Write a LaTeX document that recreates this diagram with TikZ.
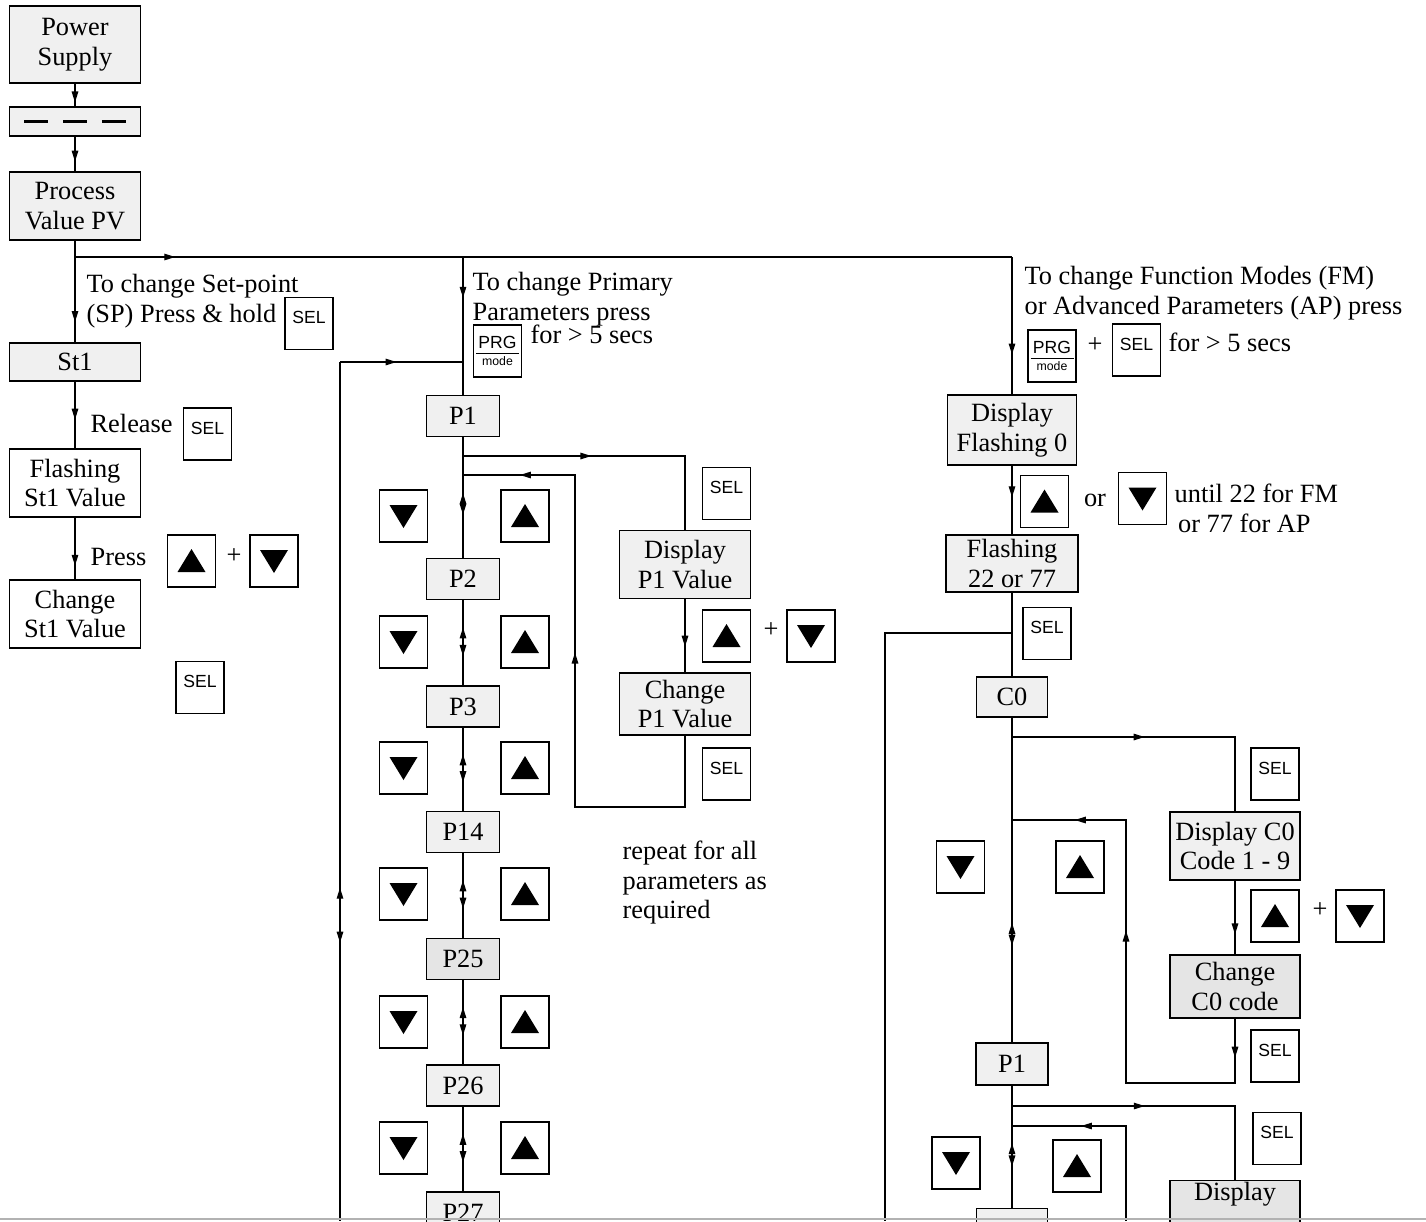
\documentclass[tikz,border=0pt]{standalone}
\usepackage{fontspec}
\setmainfont{Liberation Serif}
\newfontfamily\keyfam{Liberation Sans}
\usetikzlibrary{arrows.meta,decorations.markings}
\newcommand{\boxfont}{\fontsize{15}{17}\selectfont}
\newcommand{\keyfont}{\keyfam\fontsize{10}{11}\selectfont}
\newcommand{\prglabel}{PRG\\[-8pt]\rule{0.86cm}{0.6pt}\\[-4pt]{\fontsize{7}{7}\selectfont mode}}
\newcommand{\dashbar}{\rule{0.48cm}{1.3pt}}
\tikzset{>={Triangle[length=2.2mm,width=1.3mm]},
  dispbox/.style={draw, fill=black!6, inner sep=1pt, align=center, font=\boxfont},
  bigbox/.style={dispbox, minimum width=2.62cm, minimum height=1.36cm},
  pbox/.style={dispbox, minimum width=1.46cm, minimum height=0.82cm},
  keybox/.style={draw, fill=white, minimum width=0.96cm, minimum height=1.04cm, inner sep=0pt},
  selkey/.style={keybox, font=\keyfont, text height=0.3cm, text depth=0.3cm},
  prgkey/.style={keybox, font=\keyfont, align=center},
  upkey/.style={keybox, path picture={\fill[black] ([xshift=-0.28cm,yshift=-0.22cm]path picture bounding box.center) -- ++(0.56cm,0cm) -- ++(-0.28cm,0.46cm) -- cycle;}},
  dnkey/.style={keybox, path picture={\fill[black] ([xshift=-0.28cm,yshift=0.22cm]path picture bounding box.center) -- ++(0.56cm,0cm) -- ++(-0.28cm,-0.46cm) -- cycle;}},
  arrat/.style={postaction={decorate, decoration={markings, mark=at position #1 with {\arrow{>}}}}},
  arrback/.style={postaction={decorate, decoration={markings, mark=at position #1 with {\arrowreversed{>}}}}},
  txt/.style={font=\boxfont, align=left, inner sep=0pt}}

\begin{document}
\begin{tikzpicture}[x=0.02cm, y=-0.02cm, line width=0.75pt]
\useasboundingbox (0,0) rectangle (1426,1221);
% left column: set-point
\node[dispbox, minimum width=2.62cm, minimum height=1.54cm] (power) at (75,44.5) {Power\\Supply};
\node[dispbox, minimum width=2.62cm, minimum height=0.58cm] (dash) at (75,121.5) {\dashbar\hspace{0.3cm}\dashbar\hspace{0.3cm}\dashbar};
\node[bigbox] (process) at (75,206) {Process\\Value PV};
\node[dispbox, minimum width=2.62cm, minimum height=0.76cm] (st1) at (75,362) {St1};
\node[bigbox, fill=white] (flash) at (75,483) {Flashing\\St1 Value};
\node[bigbox, fill=white] (chg) at (75,614) {Change\\St1 Value};
\node[txt, anchor=north west] (tsp) at (86,274) {To change Set-point\\(SP) Press \& hold};
\node[selkey] (selsp) at (309,323.5) {SEL};
\node[txt, anchor=base west] (trel) at (90,432) {Release};
\node[selkey] (selrel) at (207.5,434) {SEL};
\node[txt, anchor=base west] (tpress) at (90,565) {Press};
\node[upkey] (upst) at (191.5,561) {};
\node[txt] (plusst) at (234,556) {+};
\node[dnkey] (dnst) at (274,561) {};
\node[selkey] (selst) at (200,687.5) {SEL};
\coordinate (jpv) at (75,257);
\coordinate (jp) at (463,257);
\coordinate (jfm) at (1012,257);
\draw[arrat=0.83] (power) -- (dash);
\draw[arrat=0.72] (dash) -- (process);
\draw[arrat=0.8] (process) -- (st1);
\draw[arrat=0.107] (jpv) -- (jfm);
\draw[arrat=0.57] (st1) -- (flash);
\draw[arrat=0.78] (flash) -- (chg);

% middle column: primary parameters
\node[txt, anchor=north west] (tpri) at (472,272) {To change Primary\\Parameters press};
\node[prgkey] (prgpri) at (497.5,351) {\prglabel};
\node[txt, anchor=base west] (tforpri) at (530,343) {for > 5 secs};
\node[pbox] (p1) at (463,416) {P1};
\node[pbox] (p2) at (463,579) {P2};
\node[pbox] (p3) at (463,706.5) {P3};
\node[pbox] (p14) at (463,832) {P14};
\node[pbox, fill=black!10] (p25) at (463,959) {P25};
\node[pbox] (p26) at (463,1085.5) {P26};
\node[pbox] (p27) at (463,1212.5) {P27};
\foreach \y [count=\i] in {516,642,768,894,1022,1148} {
  \node[dnkey] (kdn\i) at (403.5,\y) {};
  \node[upkey] (kup\i) at (525,\y) {};
}
\draw[arrback=0.463, arrat=0.643] (p1) -- (p2);
\foreach \a/\b in {p2/p3,p3/p14,p14/p25,p25/p26,p26/p27}
  \draw[arrback=0.32, arrat=0.655] (\a) -- (\b);
\draw[arrat=0.296] (jp) -- (p1);
\coordinate (lpt) at (340,362);
\coordinate (lpb) at (340,1221);
\coordinate (lpe) at (463,362);
\draw[arrback=0.612, arrat=0.676] (lpt) -- (lpb);
\draw[arrat=0.46] (lpt) -- (lpe);
% P1 value loop
\node[bigbox] (dp1) at (685,564.5) {Display\\P1 Value};
\node[dispbox, minimum width=2.62cm, minimum height=1.24cm] (cp1) at (685,704) {Change\\P1 Value};
\node[selkey] (selp1) at (726.5,493.5) {SEL};
\node[upkey] (upp1) at (726.5,636) {};
\node[txt] (plusp1) at (771,630) {+};
\node[dnkey] (dnp1) at (811,636) {};
\node[selkey] (selcp1) at (726.5,774) {SEL};
\node[txt, anchor=north west] (trep) at (622,840) {repeat for all\\parameters as\\required};
\coordinate (bp1) at (463,456);
\coordinate (bp1r) at (685,456);
\draw[arrat=0.434] (bp1) -- (bp1r) -- (dp1);
\draw[arrat=0.65] (dp1) -- (cp1);
\coordinate (rp1a) at (685,807);
\coordinate (rp1b) at (575,807);
\coordinate (rp1c) at (575,475);
\coordinate (rp1d) at (463,475);
\draw[arrat=0.537, arrat=0.909] (cp1) -- (rp1a) -- (rp1b) -- (rp1c) -- (rp1d);

% right column: function modes
\node[txt, anchor=north west] (tfm) at (1024,266) {To change Function Modes (FM)\\or Advanced Parameters (AP) press};
\node[prgkey] (prgfm) at (1052,356) {\prglabel};
\node[txt] (plusfm) at (1095,345) {+};
\node[selkey] (selfm) at (1136.5,350) {SEL};
\node[txt, anchor=base west] (tforfm) at (1168,351) {for > 5 secs};
\node[dispbox, minimum width=2.58cm, minimum height=1.4cm] (df0) at (1012,430) {Display\\Flashing 0};
\node[upkey] (upfm) at (1044.5,501.5) {};
\node[txt] (orfm) at (1095,500) {or};
\node[dnkey] (dnfm) at (1142.5,498.5) {};
\node[txt, anchor=north west] (tuntil) at (1174,483) {until 22 for FM\\\hspace{2pt}or 77 for AP};
\node[dispbox, minimum width=2.64cm, minimum height=1.14cm] (ff22) at (1012,563.5) {Flashing\\22 or 77};
\node[selkey] (selff) at (1047,633.5) {SEL};
\node[dispbox, minimum width=1.42cm, minimum height=0.8cm] (c0) at (1012,697) {C0};
\draw[arrat=0.71] (jfm) -- (df0);
\draw[arrat=0.46] (df0) -- (ff22);
\draw (ff22) -- (c0);
\coordinate (s0) at (1012,633);
\coordinate (s0l) at (885,633);
\coordinate (s0b) at (885,1221);
\draw (s0) -- (s0l) -- (s0b);
% C0 code loop
\node[bigbox, minimum width=2.6cm] (dc0) at (1235,846) {Display C0\\Code 1 - 9};
\node[dispbox, fill=black!10, minimum width=2.6cm, minimum height=1.26cm] (cc0) at (1235,986.5) {Change\\C0 code};
\node[selkey] (selc0) at (1275,774) {SEL};
\node[upkey] (upc0) at (1275,916) {};
\node[txt] (plusc0) at (1320,910) {+};
\node[dnkey] (dnc0) at (1360,916) {};
\node[selkey] (selcc0) at (1275,1056) {SEL};
\node[dnkey] (dnc0v) at (960.5,867) {};
\node[upkey] (upc0v) at (1080,867) {};
\node[dispbox, minimum width=1.44cm, minimum height=0.84cm] (p1r) at (1012,1064) {P1};
\coordinate (bc0) at (1012,737);
\coordinate (bc0r) at (1235,737);
\draw[arrat=0.446] (bc0) -- (bc0r) -- (dc0);
\draw[arrat=0.73] (dc0) -- (cc0);
\coordinate (rc0a) at (1235,1083);
\coordinate (rc0b) at (1126,1083);
\coordinate (rc0c) at (1126,820);
\coordinate (rc0d) at (1012,820);
\draw[arrat=0.071, arrat=0.592, arrat=0.886] (cc0) -- (rc0a) -- (rc0b) -- (rc0c) -- (rc0d);
\draw[arrback=0.632, arrat=0.702] (c0) -- (p1r);
% P1 loop (continues below)
\node[selkey] (selp1r) at (1277,1138.5) {SEL};
\node[dnkey] (dnp1r) at (956,1163) {};
\node[upkey] (upp1r) at (1077,1166) {};
\node[dispbox, fill=black!10, minimum width=2.6cm, text depth=0.75cm, anchor=north] (disp2) at (1235,1180) {Display};
\node[dispbox, minimum width=1.42cm, minimum height=0.8cm, anchor=north] (p2r) at (1012,1208) {};
\coordinate (bp1b) at (1012,1106);
\coordinate (bp1br) at (1235,1106);
\draw[arrat=0.447] (bp1b) -- (bp1br) -- (disp2);
\coordinate (rp1e) at (1126,1221);
\coordinate (rp1f) at (1126,1126);
\coordinate (rp1g) at (1012,1126);
\draw[arrat=0.67] (rp1e) -- (rp1f) -- (rp1g);
\draw[arrback=0.47, arrat=0.66] (p1r) -- (p2r);
\draw[gray!60, line width=1.2pt] (0,1219) -- (1426,1219);
\end{tikzpicture}
\end{document}
